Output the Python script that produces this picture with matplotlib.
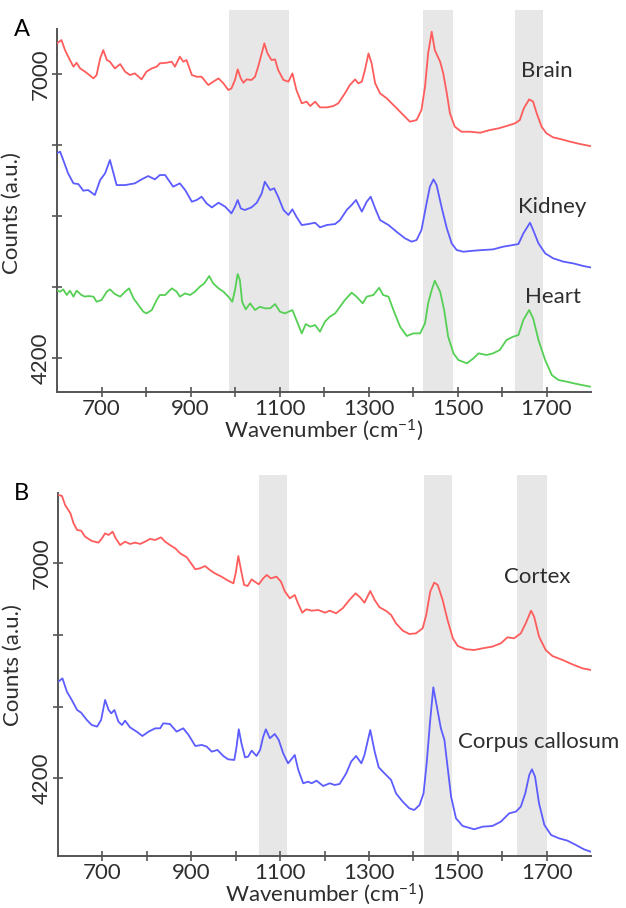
import matplotlib
matplotlib.use("Agg")
import matplotlib.pyplot as plt

plt.rcParams['font.family'] = ['Lato', 'DejaVu Sans']
plt.rcParams['mathtext.default'] = 'regular'

# ---------------- Panel A data ----------------
brain_wn = [600, 610, 618, 629, 637, 644, 652, 663, 682, 689, 697, 704, 712, 719, 730, 742, 753, 764, 775, 790,
            801, 813, 824, 831, 846, 858, 865, 876, 884, 891, 903, 914, 925, 940, 951, 963, 974, 985, 992, 1000,
            1006, 1013, 1019, 1026, 1037, 1045, 1052, 1060, 1066, 1073, 1082, 1090, 1097, 1109, 1120, 1129, 1138,
            1150, 1161, 1169, 1180, 1191, 1206, 1221, 1232, 1247, 1258, 1270, 1277, 1285, 1292, 1300, 1307, 1315,
            1326, 1341, 1356, 1371, 1382, 1393, 1408, 1419, 1427, 1434, 1442, 1449, 1461, 1468, 1476, 1483, 1494,
            1509, 1528, 1551, 1573, 1592, 1610, 1629, 1640, 1649, 1661, 1670, 1678, 1689, 1700, 1715, 1734, 1753,
            1775, 1798]
brain_counts = [7302, 7335, 7236, 7138, 7072, 7111, 7055, 7023, 6957, 6990, 7154, 7236, 7138, 7121, 7055, 7098,
                7023, 6990, 7006, 6947, 7023, 7055, 7072, 7105, 7111, 7121, 7072, 7171, 7121, 7138, 6990, 6973,
                6973, 6891, 6924, 6957, 6908, 6842, 6858, 6941, 7046, 6957, 6914, 6947, 6941, 6973, 7072, 7203,
                7302, 7203, 7138, 7144, 7039, 6941, 6924, 7006, 6842, 6711, 6727, 6684, 6727, 6671, 6671, 6684,
                6711, 6809, 6891, 6947, 6908, 6924, 7039, 7203, 7105, 6908, 6809, 6760, 6694, 6628, 6579, 6530,
                6546, 6645, 6875, 7203, 7417, 7236, 7121, 7006, 6809, 6612, 6480, 6431, 6431, 6421, 6448, 6464,
                6487, 6513, 6546, 6661, 6750, 6727, 6612, 6480, 6415, 6375, 6356, 6333, 6310, 6290]

kidney_wn = [599, 607, 614, 625, 637, 648, 659, 670, 685, 697, 708, 719, 727, 734, 753, 775, 790, 805, 820, 831,
             843, 861, 876, 888, 903, 914, 925, 936, 948, 963, 978, 992, 1000, 1006, 1013, 1022, 1037, 1049, 1060,
             1067, 1079, 1088, 1097, 1109, 1120, 1129, 1138, 1150, 1165, 1180, 1191, 1206, 1225, 1236, 1251, 1262,
             1272, 1285, 1296, 1305, 1315, 1326, 1345, 1363, 1382, 1397, 1408, 1419, 1429, 1438, 1446, 1453, 1464,
             1476, 1487, 1498, 1513, 1536, 1558, 1580, 1603, 1625, 1637, 1648, 1663, 1670, 1682, 1697, 1715, 1738,
             1760, 1783, 1798]
kidney_counts = [6218, 6234, 6152, 6020, 5922, 5915, 5850, 5856, 5807, 5955, 6020, 6152, 6020, 5905, 5905, 5922,
                 5961, 5994, 5961, 6004, 6004, 5889, 5922, 5856, 5741, 5758, 5790, 5725, 5685, 5731, 5692, 5626,
                 5692, 5758, 5675, 5659, 5685, 5731, 5823, 5938, 5856, 5873, 5790, 5659, 5610, 5666, 5593, 5511,
                 5521, 5534, 5488, 5511, 5521, 5560, 5659, 5708, 5758, 5643, 5741, 5790, 5675, 5560, 5511, 5445,
                 5380, 5347, 5363, 5462, 5692, 5889, 5961, 5905, 5692, 5478, 5330, 5265, 5248, 5258, 5265, 5271,
                 5298, 5314, 5324, 5429, 5534, 5462, 5330, 5232, 5183, 5150, 5133, 5107, 5094]

heart_wn = [599, 607, 614, 622, 629, 637, 644, 655, 663, 670, 682, 689, 700, 712, 719, 730, 742, 753, 762, 772,
            783, 794, 801, 813, 824, 831, 843, 858, 869, 876, 888, 899, 910, 921, 931, 942, 951, 963, 974, 985,
            994, 1000, 1006, 1011, 1016, 1024, 1034, 1045, 1056, 1067, 1079, 1090, 1101, 1112, 1129, 1138, 1150,
            1159, 1169, 1180, 1191, 1202, 1213, 1225, 1236, 1247, 1262, 1273, 1287, 1296, 1311, 1324, 1333, 1345,
            1356, 1371, 1386, 1401, 1416, 1427, 1434, 1442, 1449, 1461, 1470, 1479, 1491, 1502, 1521, 1536, 1547,
            1565, 1580, 1595, 1610, 1625, 1637, 1648, 1661, 1670, 1682, 1697, 1712, 1727, 1745, 1768, 1798]
heart_counts = [4870, 4854, 4877, 4821, 4864, 4805, 4864, 4821, 4805, 4811, 4805, 4755, 4772, 4854, 4877, 4831,
                4805, 4854, 4887, 4788, 4722, 4657, 4640, 4673, 4772, 4821, 4821, 4887, 4854, 4805, 4837, 4821,
                4854, 4903, 4936, 5008, 4936, 4887, 4854, 4805, 4755, 4870, 5028, 4969, 4755, 4680, 4739, 4673,
                4706, 4690, 4690, 4732, 4657, 4640, 4673, 4575, 4443, 4535, 4509, 4525, 4460, 4558, 4607, 4640,
                4706, 4772, 4844, 4805, 4739, 4805, 4821, 4893, 4821, 4805, 4673, 4509, 4417, 4443, 4443, 4542,
                4739, 4870, 4962, 4854, 4673, 4410, 4246, 4180, 4148, 4197, 4246, 4230, 4246, 4279, 4377, 4410,
                4427, 4575, 4673, 4591, 4377, 4180, 4032, 3983, 3967, 3944, 3918]

# ---------------- Panel B data ----------------
cortex_wn = [601, 609, 616, 628, 635, 643, 652, 661, 676, 691, 699, 706, 714, 723, 730, 740, 751, 762, 774, 785,
             796, 807, 819, 832, 841, 852, 864, 875, 890, 897, 909, 920, 931, 942, 953, 968, 983, 995, 1000, 1006,
             1012, 1019, 1027, 1036, 1043, 1052, 1062, 1070, 1079, 1092, 1102, 1111, 1122, 1133, 1141, 1150, 1159,
             1171, 1186, 1201, 1212, 1226, 1241, 1256, 1270, 1280, 1290, 1303, 1313, 1324, 1339, 1350, 1361, 1376,
             1391, 1406, 1421, 1429, 1438, 1447, 1455, 1466, 1477, 1489, 1500, 1519, 1537, 1556, 1578, 1597, 1612,
             1627, 1642, 1653, 1665, 1672, 1683, 1698, 1713, 1736, 1758, 1781, 1799]
cortex_counts = [7890, 7877, 7759, 7651, 7521, 7434, 7425, 7347, 7291, 7269, 7325, 7390, 7369, 7412, 7325, 7238,
                 7282, 7252, 7269, 7252, 7282, 7317, 7304, 7338, 7282, 7238, 7195, 7130, 7078, 7021, 6922, 6935,
                 6965, 6913, 6870, 6826, 6774, 6739, 6870, 7095, 6913, 6718, 6705, 6791, 6761, 6726, 6804, 6848,
                 6804, 6826, 6761, 6631, 6544, 6587, 6470, 6357, 6401, 6383, 6392, 6357, 6383, 6349, 6414, 6522,
                 6609, 6557, 6487, 6639, 6522, 6427, 6379, 6327, 6218, 6123, 6079, 6088, 6153, 6327, 6631, 6748,
                 6718, 6522, 6262, 6023, 5923, 5880, 5871, 5893, 5915, 5958, 6036, 6023, 6088, 6218, 6383, 6305,
                 6045, 5871, 5793, 5741, 5684, 5632, 5611]

callosum_wn = [601, 610, 620, 631, 643, 652, 665, 676, 688, 697, 706, 714, 720, 727, 736, 744, 751, 762, 777, 790,
               804, 819, 830, 837, 852, 867, 882, 894, 909, 924, 935, 946, 959, 972, 983, 997, 1002, 1007, 1013,
               1021, 1028, 1036, 1047, 1055, 1062, 1068, 1077, 1088, 1097, 1107, 1118, 1127, 1133, 1141, 1152, 1163,
               1171, 1182, 1197, 1212, 1223, 1234, 1249, 1260, 1271, 1283, 1290, 1303, 1313, 1322, 1335, 1350, 1361,
               1376, 1391, 1402, 1414, 1423, 1430, 1438, 1445, 1453, 1462, 1470, 1477, 1485, 1496, 1511, 1537, 1556,
               1578, 1597, 1616, 1631, 1642, 1652, 1661, 1667, 1674, 1683, 1695, 1710, 1728, 1747, 1766, 1784, 1799]
callosum_counts = [5459, 5502, 5328, 5220, 5090, 5055, 4959, 4894, 4873, 4959, 5220, 5090, 5046, 5090, 4938, 4894,
                   4951, 4864, 4808, 4751, 4808, 4851, 4851, 4916, 4907, 4808, 4851, 4764, 4621, 4634, 4612, 4547,
                   4569, 4491, 4447, 4439, 4612, 4838, 4656, 4473, 4482, 4560, 4491, 4569, 4742, 4838, 4721, 4777,
                   4699, 4525, 4395, 4460, 4504, 4308, 4135, 4156, 4135, 4169, 4100, 4135, 4113, 4126, 4265, 4417,
                   4491, 4395, 4504, 4829, 4547, 4343, 4265, 4178, 4004, 3896, 3809, 3787, 3852, 4004, 4395, 4959,
                   5385, 5133, 4851, 4699, 4352, 3961, 3679, 3579, 3536, 3570, 3579, 3635, 3744, 3766, 3831, 4004,
                   4243, 4317, 4222, 3874, 3592, 3462, 3418, 3388, 3332, 3275, 3245]

# highlighted bands (cm-1)
bands_a = [(986, 1121), (1422, 1490), (1629, 1692)]
bands_b = [(1052, 1115), (1425, 1488), (1634, 1701)]

ticks_a = [4200, 4900, 5600, 6300, 7000]
ticks_b = [4200, 5133, 6067, 7000]
x_major = [700, 800, 900, 1000, 1100, 1200, 1300, 1400, 1500, 1600, 1700]
x_labels = ['700', '', '900', '', '1100', '', '1300', '', '1500', '', '1700']

RED = '#ff5c5c'
BLUE = '#5c5cff'
GREEN = '#55d055'
BAND = '#e7e7e7'
SPINE = '#555555'
TXT = '#2e2e2e'
FS = 16

fig = plt.figure(figsize=(6.26, 9.08), dpi=100)
W, H = 626, 908


def make_axes(top_px, bottom_px, left_px=57, right_px=591):
    return fig.add_axes([left_px / W, 1 - bottom_px / H, (right_px - left_px) / W, (bottom_px - top_px) / H])


def style(ax, ylim, spine_top, yticks, bands, ylabel_y):
    for x0, x1 in bands:
        ax.axvspan(x0, x1, color=BAND, lw=0, zorder=0)
    ax.set_xlim(600, 1800)
    ax.set_ylim(*ylim)
    for s in ['top', 'right']:
        ax.spines[s].set_visible(False)
    for s in ['left', 'bottom']:
        ax.spines[s].set_color(SPINE)
        ax.spines[s].set_linewidth(1.4)
    ax.spines['left'].set_bounds(ylim[0], spine_top)
    ax.set_xticks(x_major, labels=x_labels)
    ylabels = [str(t) if t in (4200, 7000) else '' for t in yticks]
    ax.set_yticks(yticks, labels=ylabels)
    ax.tick_params(axis='both', direction='inout', length=7, width=1.2, color=SPINE,
                   labelsize=FS, labelcolor=TXT)
    ax.tick_params(axis='x', pad=1.5)
    ax.tick_params(axis='y', pad=1)
    for lab in ax.get_yticklabels():
        lab.set_rotation(90)
        lab.set_va('center')
    ax.set_xlabel('Wavenumber (cm$^{-1}$)', fontsize=FS, color=TXT, labelpad=-1)
    ax.set_ylabel('Counts (a.u.)', fontsize=FS, color=TXT)
    ax.yaxis.set_label_coords(-0.066, ylabel_y)


# ---- Panel A ----
axA = make_axes(10, 392)
axA.plot(brain_wn, brain_counts, color=RED, lw=1.3, zorder=3)
axA.plot(kidney_wn, kidney_counts, color=BLUE, lw=1.3, zorder=3)
axA.plot(heart_wn, heart_counts, color=GREEN, lw=1.3, zorder=3)
style(axA, (3865, 7631), 7443, ticks_a, bands_a, 0.469)
axA.text(1701, 7030, 'Brain', fontsize=FS, color=TXT, ha='center', va='center')
axA.text(1712, 5689, 'Kidney', fontsize=FS, color=TXT, ha='center', va='center')
axA.text(1715, 4801, 'Heart', fontsize=FS, color=TXT, ha='center', va='center')
fig.text(14 / W, 1 - 30 / H, 'A', fontsize=17, color='black', ha='left', va='center')

# ---- Panel B ----
axB = make_axes(475, 856, left_px=58)
axB.plot(cortex_wn, cortex_counts, color=RED, lw=1.3, zorder=3)
axB.plot(callosum_wn, callosum_counts, color=BLUE, lw=1.3, zorder=3)
style(axB, (3188, 8150), 7916, ticks_b, bands_b, 0.501)
axB.text(1679, 6818, 'Cortex', fontsize=FS, color=TXT, ha='center', va='center')
axB.text(1681, 4669, 'Corpus callosum', fontsize=FS, color=TXT, ha='center', va='center')
fig.text(14 / W, 1 - 494 / H, 'B', fontsize=17, color='black', ha='left', va='center')

fig.savefig('out.png', dpi=100)
